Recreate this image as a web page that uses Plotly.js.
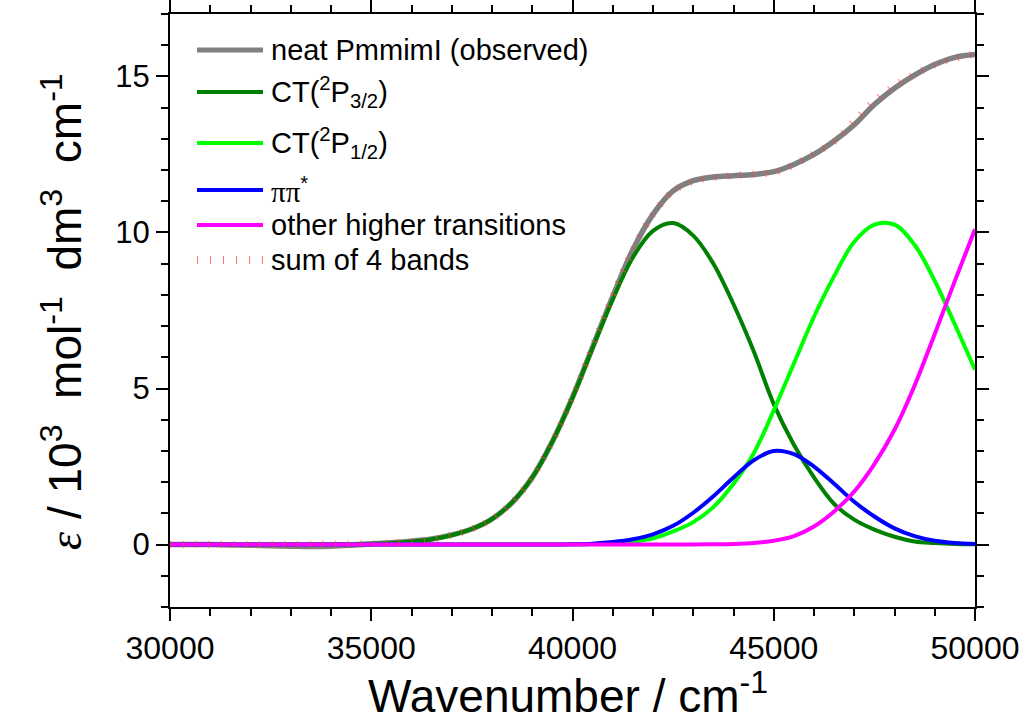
<!DOCTYPE html>
<html>
<head>
<meta charset="utf-8">
<script src="https://cdn.plot.ly/plotly-3.0.1.min.js"></script>
<style>html,body{margin:0;padding:0;background:#fff;}#chart{width:1027px;height:724px;}</style>
</head>
<body>
<div id="chart"></div>
<script>
const wavenumber = [30000,30500,31000,31500,32000,32500,33000,33500,34000,34500,35000,35500,36000,36500,37000,37500,38000,38500,39000,39500,40000,40500,41000,41500,42000,42500,43000,43500,44000,44500,45000,45500,46000,46500,47000,47500,48000,48500,49000,49500,50000];

const observed = [0,0,0,-0.01,-0.02,-0.04,-0.05,-0.06,-0.05,-0.02,0.02,0.06,0.11,0.18,0.31,0.5,0.82,1.35,2.15,3.3,4.72,6.33,7.95,9.45,10.58,11.33,11.66,11.78,11.82,11.86,11.95,12.18,12.5,12.93,13.45,14.1,14.62,15.04,15.38,15.61,15.7];

const ct32 = [0,0,0,0,0,0,0,0.01,0.01,0.02,0.03,0.05,0.1,0.17,0.3,0.5,0.82,1.35,2.15,3.3,4.7,6.3,7.85,9.2,10.05,10.3,9.9,9.0,7.7,6.2,4.5,3.2,2.15,1.3,0.8,0.48,0.25,0.1,0.05,0.02,0.01];

const ct12 = [0,0,0,0,0,0,0,0,0,0,0,0,0,0,0,0,0,0,0,0,0.01,0.02,0.04,0.09,0.2,0.42,0.72,1.2,1.95,2.92,4.3,5.8,7.3,8.6,9.7,10.25,10.25,9.6,8.45,7.05,5.6];

const pipi = [0,0,0,0,0,0,0,0,0,0,0,0,0,0,0,0,0,0,0,0,0.01,0.03,0.08,0.17,0.33,0.6,1.02,1.55,2.15,2.7,3.0,2.9,2.5,1.95,1.37,0.9,0.52,0.27,0.12,0.05,0.02];

const higher = [0,0,0,0,0,0,0,0,0,0,0,0,0,0,0,0,0,0,0,0,0,0,0,0,0,0,0,0.01,0.02,0.05,0.12,0.27,0.58,1.06,1.7,2.58,3.68,5.1,6.75,8.45,10.1];

const sum4 = [0,0,0,0,0,0,0,0.01,0.01,0.02,0.03,0.05,0.1,0.17,0.3,0.5,0.82,1.35,2.15,3.3,4.72,6.35,7.97,9.46,10.58,11.32,11.64,11.76,11.82,11.87,11.92,12.17,12.53,12.91,13.57,14.21,14.7,15.07,15.37,15.57,15.73];

const xTicks = [30000,35000,40000,45000,50000];
const yTicks = [0,5,10,15];

const seriesNames = ['neat PmmimI (observed)','CT(<sup>2</sup>P<sub>3/2</sub>)','CT(<sup>2</sup>P<sub>1/2</sub>)','ππ*','other higher transitions','sum of 4 bands'];
const colors = ['#808080','#008000','#00ff00','#0000ff','#ff00ff','rgba(255,70,70,0.75)'];

const FONT = 'Liberation Sans, Arial, sans-serif';

// geometry helpers (plot area in px)
const L = 170, R = 975, T = 14, B = 607;
const px2x = p => (p - L) / (R - L);
const px2y = p => (B - p) / (B - T);

const traces = [
  {x: wavenumber, y: observed, name: seriesNames[0], mode:'lines', line:{color:colors[0], width:5.5, shape:'spline'}},
  {x: wavenumber, y: ct32, name: seriesNames[1], mode:'lines', line:{color:colors[1], width:4, shape:'spline'}},
  {x: wavenumber, y: ct12, name: seriesNames[2], mode:'lines', line:{color:colors[2], width:4, shape:'spline'}},
  {x: wavenumber, y: pipi, name: seriesNames[3], mode:'lines', line:{color:colors[3], width:4, shape:'spline'}},
  {x: wavenumber, y: higher, name: seriesNames[4], mode:'lines', line:{color:colors[4], width:4, shape:'spline'}},
  {x: wavenumber, y: sum4, name: seriesNames[5], mode:'lines', line:{color:colors[5], width:7, dash:'1px,11.7px', shape:'spline'}}
];
traces.forEach(t => { t.showlegend = false; t.hoverinfo = 'skip'; });

// custom legend
const rowY = [50, 92, 143, 190, 225, 260];
const shapes = [];
const annotations = [];
rowY.forEach((py, i) => {
  const isSum = i === 5;
  shapes.push({type:'line', xref:'paper', yref:'paper', x0:px2x(197), x1:px2x(263), y0:px2y(py), y1:px2y(py),
    line:{color: colors[i], width: isSum ? 8 : (i===0 ? 5 : 4), dash: isSum ? '1px,12px' : 'solid'}});
  annotations.push({xref:'paper', yref:'paper', x:px2x(269), y:px2y(py), xanchor:'left', yanchor:'middle',
    text: i===3 ? '<span style="font-family:Liberation Serif, serif">ππ</span><sup>*</sup>' : seriesNames[i],
    showarrow:false, font:{family:FONT, size:29, color:'#000'}});
});

// axis titles
const sp = '\u00a0';
annotations.push({xref:'paper', yref:'paper', x:px2x(568), y:px2y(693), xanchor:'center', yanchor:'middle',
  text:'Wavenumber / cm<sup>-1</sup>', showarrow:false, font:{family:FONT, size:46, color:'#000'}});
annotations.push({xref:'paper', yref:'paper', x:px2x(62), y:px2y(312), xanchor:'center', yanchor:'middle', textangle:-90,
  text:'<span style="font-family:Liberation Serif, serif"><i>ε</i></span>'+sp+'/'+sp+'10<sup>3</sup>'+sp+sp+'mol<sup>-1</sup>'+sp+sp+'dm<sup>3</sup>'+sp+sp+'cm<sup>-1</sup>',
  showarrow:false, font:{family:FONT, size:46, color:'#000'}});

const layout = {
  width:1027, height:724,
  margin:{l:L, r:1027-R, t:T, b:724-B, pad:0},
  paper_bgcolor:'#fff', plot_bgcolor:'#fff',
  showlegend:false,
  font:{family:FONT, color:'#000'},
  xaxis:{range:[30000,50000], tickvals:xTicks, ticktext:xTicks.map(String), ticks:'outside', ticklen:12, tickwidth:2,
    tickcolor:'#000', showline:true, linewidth:2, linecolor:'#000', mirror:'ticks', showgrid:false, zeroline:false,
    tickfont:{family:FONT, size:32, color:'#000'},
    minor:{dtick:1000, tick0:30000, ticks:'outside', ticklen:7, tickwidth:2, tickcolor:'#000', showgrid:false}},
  yaxis:{range:[-2,17], tickvals:yTicks, ticktext:yTicks.map(String), ticks:'outside', ticklen:12, tickwidth:2,
    tickcolor:'#000', showline:true, linewidth:2, linecolor:'#000', mirror:'ticks', showgrid:false, zeroline:false,
    tickfont:{family:FONT, size:31, color:'#000'},
    minor:{dtick:1, tick0:0, ticks:'outside', ticklen:7, tickwidth:2, tickcolor:'#000', showgrid:false}},
  shapes: shapes,
  annotations: annotations
};

Plotly.newPlot('chart', traces, layout, {staticPlot:true, displayModeBar:false});
</script>
</body>
</html>
